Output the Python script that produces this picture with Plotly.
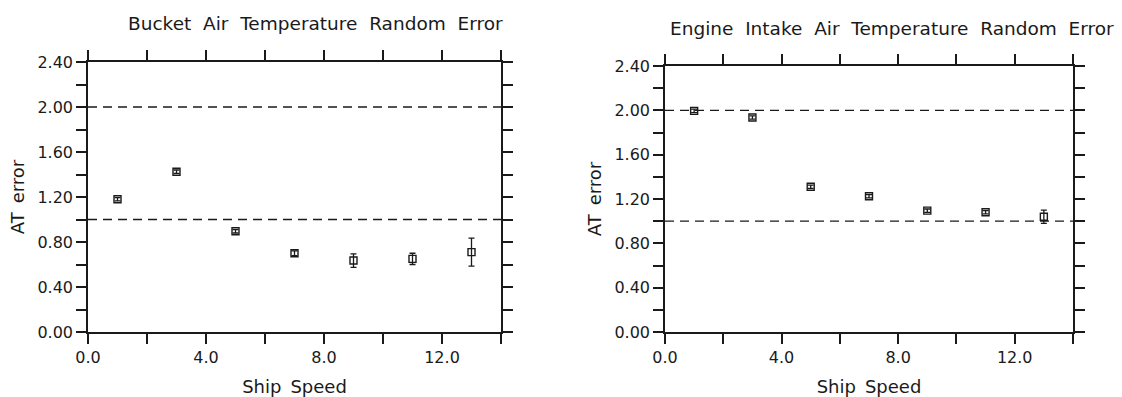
import plotly.graph_objects as go

# Ship speed bins (knots)
speed = [1, 3, 5, 7, 9, 11, 13]

# Bucket air temperature random error and its uncertainty
bucket_err = [1.18, 1.425, 0.895, 0.70, 0.635, 0.65, 0.71]
bucket_unc = [0.015, 0.015, 0.015, 0.022, 0.06, 0.05, 0.125]

# Engine intake air temperature random error and its uncertainty
eri_err = [1.995, 1.935, 1.31, 1.225, 1.095, 1.08, 1.04]
eri_unc = [0.015, 0.015, 0.015, 0.015, 0.015, 0.015, 0.06]

# Reference levels drawn as dashed lines
ref_levels = [1.0, 2.0]

x_ticks = [0, 2, 4, 6, 8, 10, 12, 14]
x_labels = ["0.0", "", "4.0", "", "8.0", "", "12.0", ""]
y_ticks = [0.0, 0.2, 0.4, 0.6, 0.8, 1.0, 1.2, 1.4, 1.6, 1.8, 2.0, 2.2, 2.4]
y_labels = ["0.00", "", "0.40", "", "0.80", "", "1.20", "", "1.60", "", "2.00", "", "2.40"]

titles = ["Bucket Air Temperature Random Error",
          "Engine Intake Air Temperature Random Error"]
x_title = "Ship Speed"
y_title = "AT error"

FONT = "DejaVu Sans"
INK = "#1a1a1a"
W, H = 1122, 397


def spaced(text, gap):
    return text.replace(" ", gap)


fig = go.Figure()

panels = [
    dict(err=bucket_err, unc=bucket_unc, xa="x", ya="y",
         xdom=[88 / W, 501 / W], ydom=[1 - 332 / H, 1 - 62 / H],
         title_xy=(315.5, 23)),
    dict(err=eri_err, unc=eri_unc, xa="x2", ya="y2",
         xdom=[665 / W, 1073 / W], ydom=[1 - 332 / H, 1 - 66 / H],
         title_xy=(891.5, 29)),
]

for p in panels:
    for lvl in ref_levels:
        fig.add_trace(go.Scatter(
            x=[0, 14], y=[lvl, lvl], mode="lines",
            line=dict(color=INK, width=1.3, dash="9px,6px"),
            xaxis=p["xa"], yaxis=p["ya"], showlegend=False, hoverinfo="skip"))
    fig.add_trace(go.Scatter(
        x=speed, y=p["err"], mode="markers",
        marker=dict(symbol="square-open", size=7, color=INK, line=dict(width=1.4)),
        error_y=dict(type="data", array=p["unc"], visible=True,
                     color=INK, thickness=1.3, width=3),
        xaxis=p["xa"], yaxis=p["ya"], showlegend=False))

axis_common = dict(
    showline=True, linecolor=INK, linewidth=1.6, mirror="ticks",
    ticks="outside", ticklen=10, tickwidth=1.6, tickcolor=INK,
    showgrid=False, zeroline=False, automargin=False,
    tickfont=dict(family=FONT, size=16, color=INK),
)

layout = dict(
    width=W, height=H,
    margin=dict(l=0, r=0, t=0, b=0, autoexpand=False),
    paper_bgcolor="white", plot_bgcolor="white",
    font=dict(family=FONT, color=INK),
    showlegend=False,
)

for i, p in enumerate(panels):
    sfx = "" if i == 0 else str(i + 1)
    layout["xaxis" + sfx] = dict(
        axis_common, domain=p["xdom"], range=[0, 14],
        tickvals=x_ticks, ticktext=x_labels, anchor="y" + sfx,
        title=dict(text=spaced(x_title, "\u2002"), font=dict(family=FONT, size=18, color=INK),
                   standoff=14))
    layout["yaxis" + sfx] = dict(
        axis_common, domain=p["ydom"], range=[0, 2.4],
        tickvals=y_ticks, ticktext=y_labels, anchor="x" + sfx,
        title=dict(text=spaced(y_title, "\u2002"), font=dict(family=FONT, size=18, color=INK),
                   standoff=8))

fig.update_layout(**layout)

for p, t in zip(panels, titles):
    tx, ty = p["title_xy"]
    fig.add_annotation(x=tx / W, y=1 - ty / H, xref="paper", yref="paper",
                       xanchor="center", yanchor="middle",
                       text=spaced(t, "\u00a0 "), showarrow=False,
                       font=dict(family=FONT, size=18.5, color=INK))

fig.write_html("out.html")
